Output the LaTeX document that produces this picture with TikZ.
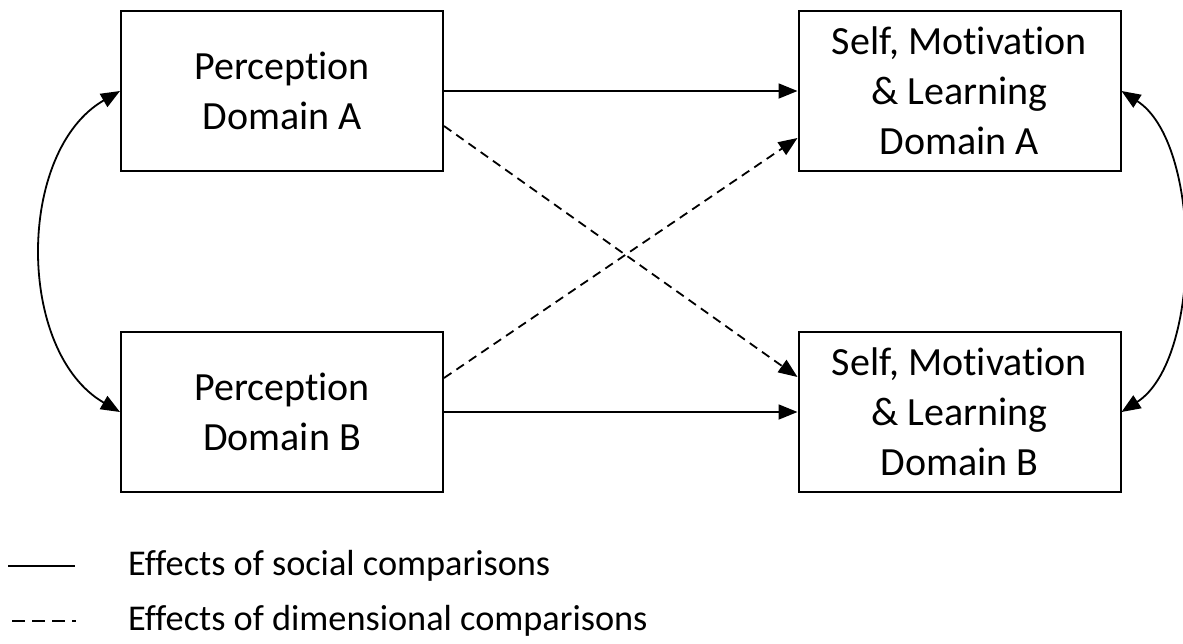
\documentclass[tikz,border=0pt]{standalone}
\usepackage{fontspec}
\setmainfont{Carlito}[Ligatures=NoCommon]
\usetikzlibrary{arrows.meta,calc}
\tikzset{
  box/.style={draw, line width=2pt, minimum width=322pt, minimum height=160pt, inner sep=0pt, align=center, font=\fontsize{40}{50}\selectfont},
  conn/.style={line width=1.8pt, -{Triangle[length=19pt,width=15pt]}},
  dconn/.style={conn, dash pattern=on 9pt off 6pt},
  bidir/.style={line width=1.8pt, {Triangle[length=19pt,width=15pt]}-{Triangle[length=19pt,width=15pt]}},
  legtext/.style={anchor=west, inner sep=0pt, font=\fontsize{36.3}{42}\selectfont}
}
\begin{document}
\begin{tikzpicture}[x=1pt,y=-1pt]
\useasboundingbox (0,0) rectangle (1183,643);
\node[box] (pa) at (282,91) {Perception\\Domain A};
\node[box] (pb) at (282,412) {Perception\\Domain B};
\node[box] (sa) at (959.5,91) {Self, Motivation\\\& Learning\\Domain A};
\node[box] (sb) at (959.5,412) {Self, Motivation\\\& Learning\\Domain B};
% social comparisons
\draw[conn] (pa.east) -- (sa.west);
\draw[conn] (pb.east) -- (sb.west);
% dimensional comparisons
\draw[dconn] ([yshift=-35pt]pa.east) -- ([yshift=35pt]sb.west);
\draw[dconn] ([yshift=34pt]pb.east) -- ([yshift=-47pt]sa.west);
% correlations
\draw[bidir] (pa.west) .. controls +(-104,60) and +(-104,-60) .. (pb.west);
\draw[bidir] (sa.east) .. controls +(81,52) and +(81,-52) .. (sb.east);
% legend
\coordinate (s1) at (8,566);
\coordinate (s2) at (75,566);
\coordinate (d1) at (12,621);
\coordinate (d2) at (76,621);
\draw[line width=2.8pt] (s1) -- (s2);
\draw[line width=2.8pt, dash pattern=on 13pt off 7pt] (d1) -- (d2);
\node[legtext] (t1) at (128,566) {Effects of social comparisons};
\node[legtext] (t2) at (128,621) {Effects of dimensional comparisons};
\end{tikzpicture}
\end{document}
